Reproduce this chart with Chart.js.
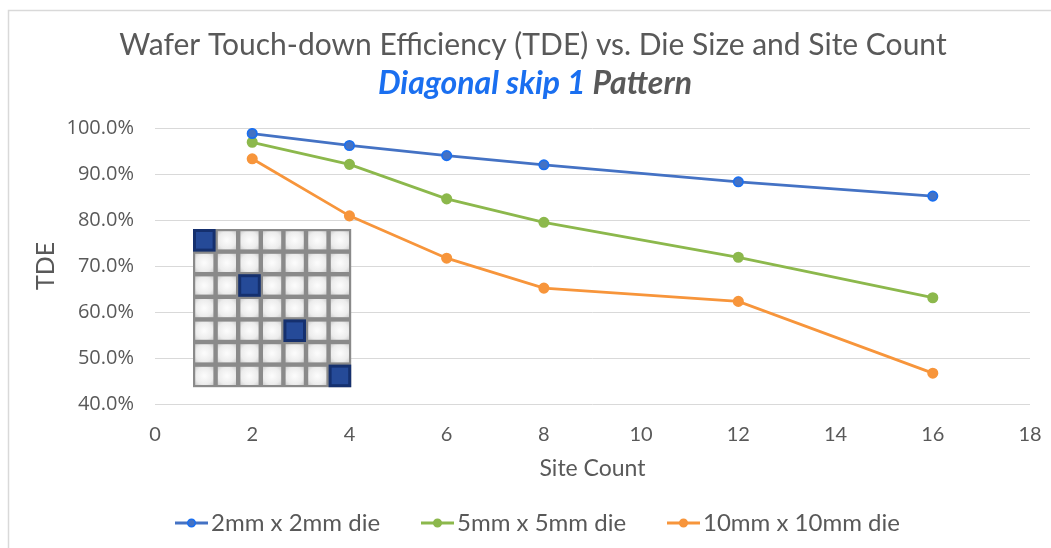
<!DOCTYPE html>
<html>
<head>
<meta charset="utf-8">
<script src="https://cdn.jsdelivr.net/npm/chart.js@4.4.1/dist/chart.umd.min.js"></script>
<style>
  html, body { margin: 0; padding: 0; background: #ffffff; }
  #wrap { position: relative; width: 1051px; height: 548px; }
  canvas { display: block; }
</style>
</head>
<body>
<div id="wrap"><canvas id="tde" width="1051" height="548"></canvas></div>
<script>
// Site counts on the x axis
const siteCounts = [2, 4, 6, 8, 12, 16];

// Touch-down efficiency (%) per die size
const tde2mm  = [98.8, 96.2, 94.0, 92.0, 88.3, 85.2];
const tde5mm  = [96.9, 92.1, 84.6, 79.5, 71.9, 63.1];
const tde10mm = [93.3, 80.9, 71.7, 65.2, 62.3, 46.7];

const seriesNames = ['2mm x 2mm die', '5mm x 5mm die', '10mm x 10mm die'];

// Axis ranges
const xMin = 0, xMax = 18, xStep = 2;
const yMin = 40, yMax = 100, yStep = 10;

// Titles
const titleText = 'Wafer Touch-down Efficiency (TDE) vs. Die Size and Site Count';
const subtitleBlue = 'Diagonal skip 1';
const subtitleGray = 'Pattern';
const xTitle = 'Site Count';
const yTitle = 'TDE';

// Probe pattern: 7x7 die map, highlighted cells on the diagonal
const patternSize = 7;
const patternHits = [[0, 0], [2, 2], [4, 4], [6, 6]];

const TEXT = '#595959';
const GRID = '#d9d9d9';
const COLORS = {
  blue:   { line: '#4472c4', point: '#4472c4', ring: '#1a6ff0' },
  green:  { line: '#8cb84c', point: '#8cb84c', ring: '#8cb84c' },
  orange: { line: '#f7953b', point: '#f7953b', ring: '#f7953b' }
};
const palette = [COLORS.blue, COLORS.green, COLORS.orange];

const toPoints = vals => siteCounts.map((x, i) => ({ x: x, y: vals[i] }));

function makeDataset(label, vals, c) {
  return {
    label: label,
    data: toPoints(vals),
    borderColor: c.line,
    backgroundColor: c.point,
    borderWidth: 2.8,
    pointRadius: 4.7,
    pointHoverRadius: 4.7,
    pointBackgroundColor: c.point,
    pointBorderColor: c.ring,
    pointBorderWidth: 1.7,
    tension: 0,
    fill: false
  };
}

// Frame, titles, die-map inset and legend
const decorations = {
  id: 'decorations',
  beforeDraw(chart) {
    const ctx = chart.ctx;
    ctx.save();
    ctx.fillStyle = '#ffffff';
    ctx.fillRect(0, 0, chart.width, chart.height);
    ctx.strokeStyle = '#d9d9d9';
    ctx.lineWidth = 1.5;
    ctx.beginPath();
    ctx.moveTo(8.5, chart.height);
    ctx.lineTo(8.5, 10.5);
    ctx.lineTo(chart.width, 10.5);
    ctx.stroke();

    // main title
    ctx.textBaseline = 'middle';
    ctx.textAlign = 'center';
    ctx.fillStyle = TEXT;
    ctx.font = '30px Lato';
    ctx.fillText(titleText, 533, 45);

    // two-colour subtitle
    ctx.font = 'italic bold 32px Lato';
    const wBlue = ctx.measureText(subtitleBlue + ' ').width;
    const wGray = ctx.measureText(subtitleGray).width;
    const sx = 535 - (wBlue + wGray) / 2;
    ctx.textAlign = 'left';
    ctx.fillStyle = '#1a6ff0';
    ctx.fillText(subtitleBlue, sx, 84);
    ctx.fillStyle = TEXT;
    ctx.fillText(subtitleGray, sx + wBlue, 84);
    ctx.restore();
  },
  beforeDatasetsDraw(chart) {
    const ctx = chart.ctx;
    const x0 = 193, y0 = 229, pitch = 22.6;
    const total = pitch * patternSize;
    ctx.save();
    ctx.fillStyle = '#8a8a8a';
    ctx.fillRect(x0, y0, total, total);
    for (let r = 0; r < patternSize; r++) {
      for (let c = 0; c < patternSize; c++) {
        const cx = x0 + c * pitch, cy = y0 + r * pitch;
        const g = ctx.createRadialGradient(cx + pitch / 2, cy + pitch / 2, 1, cx + pitch / 2, cy + pitch / 2, pitch * 0.6);
        g.addColorStop(0, '#fbfbfb');
        g.addColorStop(0.6, '#ececec');
        g.addColorStop(1, '#c9c9c9');
        ctx.fillStyle = g;
        ctx.fillRect(cx + 2.2, cy + 2.2, pitch - 4.4, pitch - 4.4);
      }
    }
    patternHits.forEach(([r, c]) => {
      const cx = x0 + c * pitch, cy = y0 + r * pitch;
      ctx.fillStyle = '#15306e';
      ctx.fillRect(cx, cy, pitch, pitch);
      ctx.fillStyle = '#254a98';
      ctx.fillRect(cx + 3, cy + 3, pitch - 6, pitch - 6);
    });
    ctx.restore();
  },
  afterDraw(chart) {
    const ctx = chart.ctx;
    const starts = [175, 421, 667];
    const yc = 523;
    ctx.save();
    ctx.font = '24px Lato';
    ctx.textBaseline = 'middle';
    ctx.textAlign = 'left';
    chart.data.datasets.forEach((ds, i) => {
      const c = palette[i];
      const x = starts[i];
      ctx.strokeStyle = c.line;
      ctx.lineWidth = 2.8;
      ctx.beginPath();
      ctx.moveTo(x, yc);
      ctx.lineTo(x + 33, yc);
      ctx.stroke();
      ctx.beginPath();
      ctx.arc(x + 16.5, yc, 3.8, 0, Math.PI * 2);
      ctx.fillStyle = c.point;
      ctx.fill();
      ctx.lineWidth = 1.5;
      ctx.strokeStyle = c.ring;
      ctx.stroke();
      ctx.fillStyle = TEXT;
      ctx.fillText(ds.label, x + 36, yc);
    });
    ctx.restore();
  }
};

new Chart(document.getElementById('tde'), {
  type: 'line',
  data: {
    datasets: [
      makeDataset(seriesNames[0], tde2mm, COLORS.blue),
      makeDataset(seriesNames[1], tde5mm, COLORS.green),
      makeDataset(seriesNames[2], tde10mm, COLORS.orange)
    ]
  },
  options: {
    responsive: false,
    animation: false,
    events: [],
    layout: { padding: { top: 128, right: 21, bottom: 0, left: 0 } },
    plugins: {
      legend: { display: false },
      title: { display: false },
      tooltip: { enabled: false }
    },
    scales: {
      x: {
        type: 'linear',
        min: xMin,
        max: xMax,
        border: { display: false },
        grid: { display: false, drawTicks: false },
        ticks: {
          stepSize: xStep,
          color: TEXT,
          padding: 19,
          font: { family: 'Lato', size: 20 }
        },
        title: {
          display: true,
          text: xTitle,
          color: TEXT,
          font: { family: 'Lato', size: 23 },
          padding: { top: 0, bottom: 66 }
        },
        afterFit(scale) {
          scale.height = 144;
          scale.paddingLeft = 0;
          scale.paddingRight = 0;
        }
      },
      y: {
        min: yMin,
        max: yMax,
        border: { display: false },
        grid: { color: GRID, lineWidth: 1, drawTicks: false },
        ticks: {
          stepSize: yStep,
          color: TEXT,
          padding: 21,
          font: { family: 'Open Sans', size: 20 },
          callback: v => v.toFixed(1) + '%'
        },
        title: {
          display: true,
          text: yTitle,
          color: TEXT,
          font: { family: 'Lato', size: 25 },
          padding: { top: 31, bottom: 0 }
        },
        afterFit(scale) {
          scale.width = 155;
          scale.paddingTop = 0;
          scale.paddingBottom = 0;
        }
      }
    }
  },
  plugins: [decorations]
});
</script>
</body>
</html>
